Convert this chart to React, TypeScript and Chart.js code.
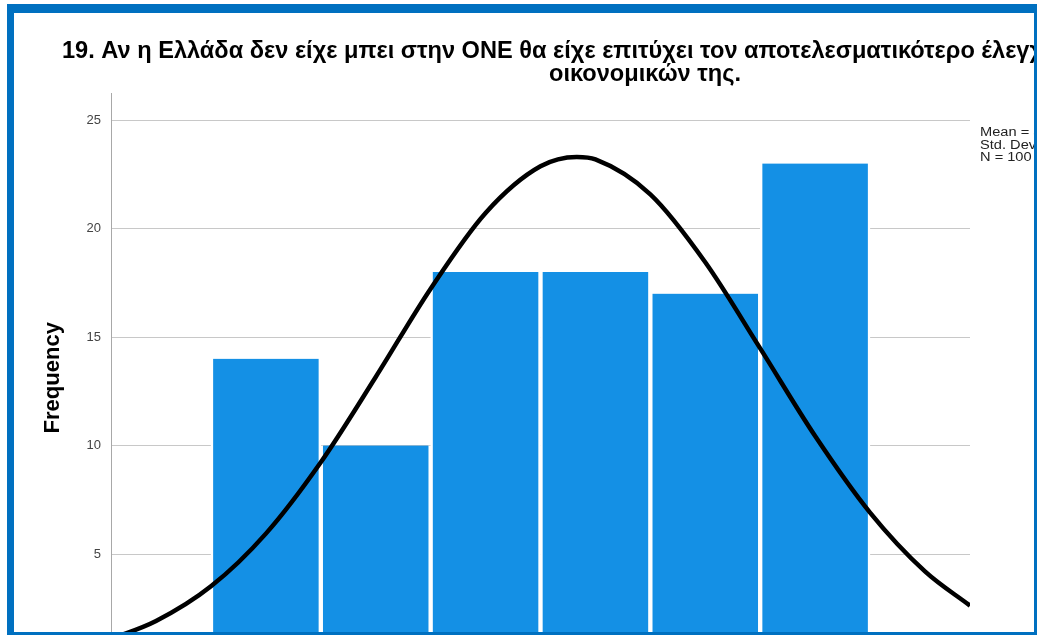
import React, { useEffect, useRef } from "react";
import { Chart, registerables } from "chart.js";

Chart.register(...registerables);

const TITLE_LINE_1 =
  "19. Αν η Ελλάδα δεν είχε μπει στην ΟΝΕ θα είχε επιτύχει τον αποτελεσματικότερο έλεγχο των";
const TITLE_LINE_2 = "οικονομικών της.";
const Y_TITLE = "Frequency";

const BIN_CENTERS = [1, 2, 3, 4, 5, 6];
const FREQUENCIES = [14, 10, 18, 18, 17, 23];

// Normal curve
const CURVE_X = [-0.41, 0, 0.5, 1, 1.5, 2, 2.5, 3, 3.5, 3.83, 4, 4.5, 5, 5.5, 6, 6.5, 7, 7.41];
const CURVE_Y = [1.08, 1.91, 3.51, 5.94, 9.23, 13.16, 17.23, 20.72, 22.87, 23.3, 23.19, 21.58, 18.45, 14.48, 10.44, 6.91, 4.2, 2.62];

const Y_TICKS = [0, 5, 10, 15, 20, 25];
const STATS_LINES = ["Mean = 3.83", "Std. Dev. = 1.712", "N = 100"];

const BORDER = "#0070c0";

export default function App() {
  const ref = useRef<HTMLCanvasElement | null>(null);

  useEffect(() => {
    if (!ref.current) return;
    const textPlugin = {
      id: "texts",
      afterDraw(chart: any) {
        const ctx = chart.ctx;
        const area = chart.chartArea;
        ctx.save();
        ctx.fillStyle = "#000";
        ctx.font = "bold 23.6px 'Liberation Sans', Arial, sans-serif";
        ctx.textBaseline = "alphabetic";
        ctx.textAlign = "left";
        ctx.fillText(TITLE_LINE_1, 62, 58);
        ctx.textAlign = "center";
        ctx.fillText(TITLE_LINE_2, 645, 81);
        ctx.restore();

        ctx.save();
        ctx.font = "12.5px 'Liberation Sans', Arial, sans-serif";
        ctx.fillStyle = "#222";
        ctx.textAlign = "left";
        ctx.textBaseline = "middle";
        STATS_LINES.forEach((s, i) => {
          ctx.save();
          ctx.translate(area.right + 10, 133 + i * 12.5);
          ctx.scale(1.17, 1);
          ctx.fillText(s, 0, 0);
          ctx.restore();
        });
        ctx.restore();
      },
    };

    const chart = new Chart(ref.current, {
      type: "bar",
      data: {
        datasets: [
          {
            type: "line",
            data: CURVE_X.map((x, i) => ({ x, y: CURVE_Y[i] })),
            borderColor: "#000",
            borderWidth: 4.5,
            pointRadius: 0,
            cubicInterpolationMode: "monotone",
            fill: false,
            order: 0,
          } as any,
          {
            type: "bar",
            data: BIN_CENTERS.map((x, i) => ({ x, y: FREQUENCIES[i] })),
            backgroundColor: "#1490e5",
            borderColor: "#ffffff",
            borderWidth: { left: 2.5, right: 2.5, top: 0, bottom: 0 },
            borderSkipped: false,
            barPercentage: 1,
            categoryPercentage: 1,
            order: 1,
          } as any,
        ],
      },
      options: {
        animation: false,
        responsive: false,
        events: [],
        layout: { padding: { top: 93, right: 67, bottom: 37.5, left: 0 } },
        plugins: {
          legend: { display: false },
          tooltip: { enabled: false },
          title: { display: false },
        },
        scales: {
          x: {
            type: "linear",
            min: -0.41,
            max: 7.41,
            offset: false,
            display: false,
            afterBuildTicks(scale: any) {
              scale.ticks = BIN_CENTERS.map((v) => ({ value: v }));
            },
          },
          y: {
            type: "linear",
            min: 0,
            max: 26.25,
            afterBuildTicks(scale: any) {
              scale.ticks = Y_TICKS.map((v) => ({ value: v }));
            },
            afterFit(scale: any) {
              scale.width = 111;
            },
            grid: {
              color: "#c8c8c8",
              lineWidth: 1,
              drawTicks: false,
            },
            border: { display: true, color: "#a8a8a8", width: 1 },
            ticks: {
              padding: 10,
              color: "#444",
              font: { family: "'Liberation Sans', Arial, sans-serif", size: 13 },
            },
            title: {
              display: true,
              text: Y_TITLE,
              color: "#000",
              padding: { top: 40, bottom: 0 },
              font: { family: "'Liberation Sans', Arial, sans-serif", size: 22, weight: "bold" },
            },
          },
        },
      } as any,
      plugins: [textPlugin],
    });
    return () => chart.destroy();
  }, []);

  return (
    <div style={{ position: "fixed", left: 0, top: 0, width: 1037, height: 635, background: "#fff", overflow: "hidden" }}>
      <div style={{ position: "absolute", left: 0, top: 0, width: 1034, height: 632, overflow: "hidden" }}>
        <canvas ref={ref} width={1037} height={700} style={{ display: "block" }} />
      </div>
      <div style={{ position: "absolute", left: 7, top: 4, width: 1030, height: 9, background: BORDER }} />
      <div style={{ position: "absolute", left: 7, top: 4, width: 7, height: 631, background: BORDER }} />
      <div style={{ position: "absolute", left: 1034, top: 4, width: 3, height: 631, background: BORDER }} />
      <div style={{ position: "absolute", left: 7, top: 632, width: 1030, height: 3, background: BORDER }} />
    </div>
  );
}
